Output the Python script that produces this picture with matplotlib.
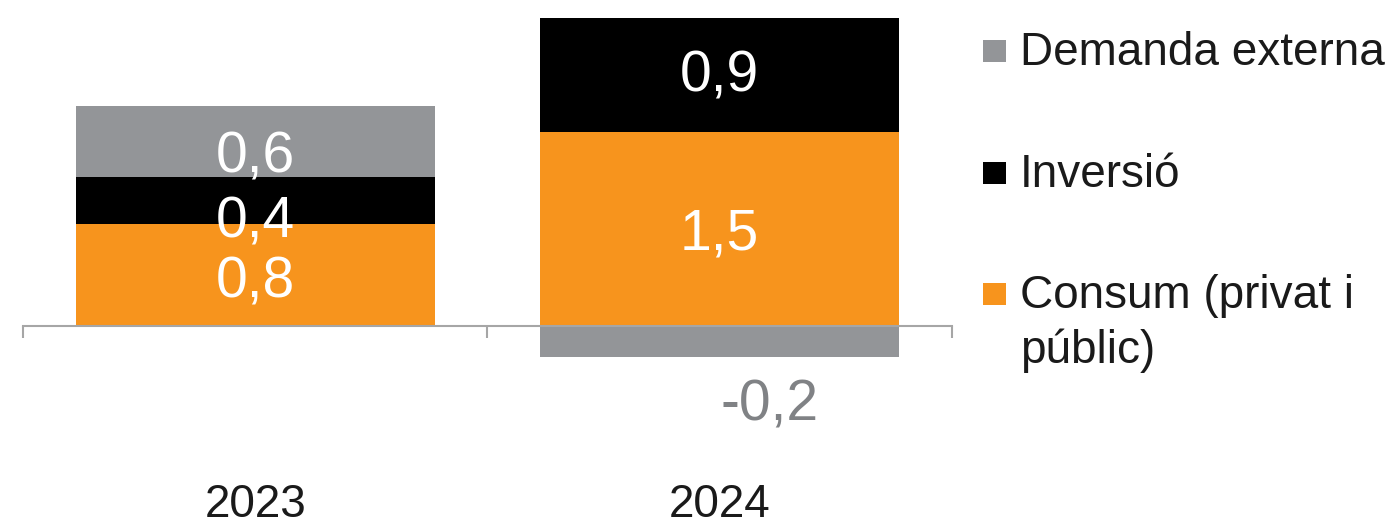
import numpy as np
import matplotlib
matplotlib.use('Agg')
import matplotlib.pyplot as plt
from matplotlib.patches import Rectangle

plt.rcParams['font.family'] = ['Liberation Sans', 'DejaVu Sans']

years = ['2023', '2024']
consum = [0.79, 1.50]
inversio = [0.36, 0.88]
demanda = [0.55, -0.24]
labels_legend = ['Demanda externa', 'Inversió', 'Consum (privat i\npúblic)']

c_orange = '#F7941D'
c_black = '#000000'
c_gray = '#939598'

W, H = 1394, 525
fig = plt.figure(figsize=(W / 100, H / 100), dpi=100)
ax = fig.add_axes([23 / W, (H - 460) / H, 929 / W, 460 / H])

x = np.arange(len(years))
bw = 0.772
ax.bar(x, consum, bw, color=c_orange, linewidth=0, zorder=1)
ax.bar(x, inversio, bw, bottom=consum, color=c_black, linewidth=0, zorder=1)
# demanda externa: stacks on top if positive, below zero if negative
bot_dem = [c + i if d >= 0 else 0 for c, i, d in zip(consum, inversio, demanda)]
ax.bar(x, demanda, bw, bottom=bot_dem, color=c_gray, linewidth=0, zorder=1)

def fmt(v):
    return ('%.1f' % v).replace('.', ',')

# offsets (pixels) of digit centre from segment centre, as in the original layout
offs = {
    (0, 'c'): (0, 2), (0, 'i'): (0, 17), (0, 'd'): (0, 11),
    (1, 'c'): (0, 0), (1, 'i'): (0, -4), (1, 'd'): (50, 59),
}
half_digit = 20.4
for k in range(len(years)):
    segs = [('c', 0, consum[k]), ('i', consum[k], inversio[k]), ('d', bot_dem[k], demanda[k])]
    for key, b, v in segs:
        dx, dy = offs[(k, key)]
        col = 'white'
        if v < 0:
            col = '#808285'
        ax.annotate(fmt(v), (x[k], b + v / 2), xytext=(dx, -(dy + half_digit)),
                    textcoords='offset pixels', ha='center', va='baseline',
                    fontsize=41, color=col, zorder=3)

ax.set_xlim(-0.5, 1.5)
ax.set_ylim(-(460 - 325.7) / 129.3, 325.7 / 129.3)
for s in ['top', 'right', 'left']:
    ax.spines[s].set_visible(False)
ax.spines['bottom'].set_position(('data', 0))
ax.spines['bottom'].set_color('#a6a6a6')
ax.spines['bottom'].set_linewidth(1.5)
ax.set_yticks([])
ax.set_xticks([-0.5, 0.5, 1.5])
ax.set_xticklabels([])
ax.tick_params(axis='x', which='major', direction='out', length=8.6, width=1.5, color='#a6a6a6')
ax.set_xticks(x, minor=True)
ax.set_xticklabels(years, minor=True, fontsize=33, color='#1a1a1a')
ax.tick_params(axis='x', which='minor', length=0, pad=113)

# legend drawn by hand, square aligned with first line
leg_cols = [c_gray, c_black, c_orange]
leg_base = [65, 187, 308]
for lab, col, yb in zip(labels_legend, leg_cols, leg_base):
    fig.add_artist(Rectangle((983 / W, 1 - (yb - 3) / H), 23 / W, 22 / H,
                             transform=fig.transFigure, color=col, linewidth=0))
    for j, line in enumerate(lab.split('\n')):
        fig.text(1020 / W, 1 - (yb + j * 55) / H, line, fontsize=33,
                 va='baseline', ha='left', color='#1a1a1a')

fig.savefig('out.png', dpi=100)
